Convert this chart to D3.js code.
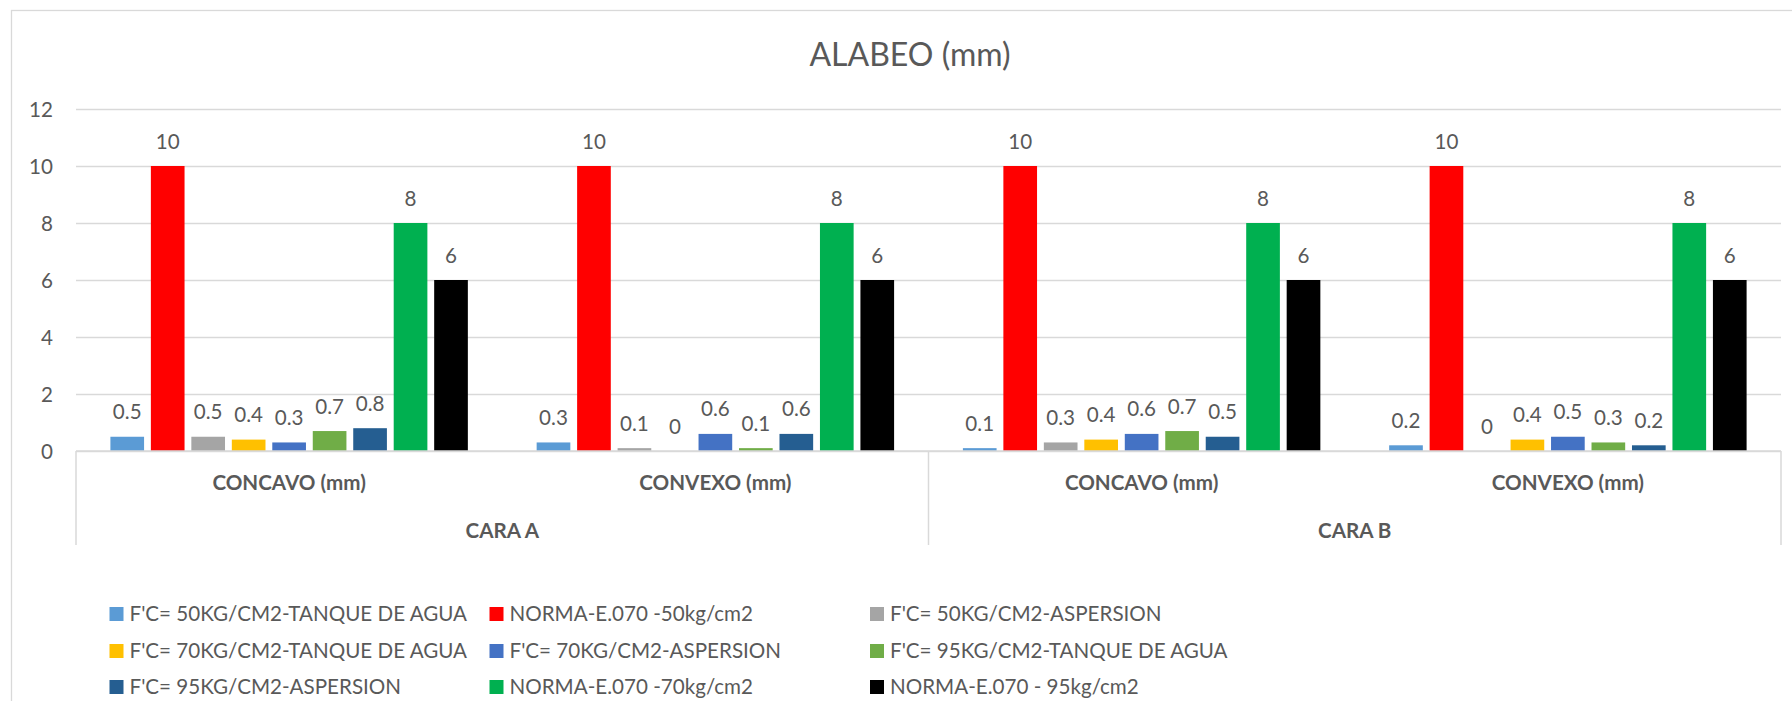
<!DOCTYPE html>
<html>
<head>
<meta charset="utf-8">
<script src="https://cdn.jsdelivr.net/npm/d3@7"></script>
<style>
  html, body { margin: 0; padding: 0; background: #fff; }
  svg { display: block; }
  text { font-family: Lato, "Open Sans", sans-serif; fill: #595959; }
</style>
</head>
<body>
<svg id="chart" width="1792" height="701"></svg>
<script>
// ---------- DATA ----------
const title = "ALABEO (mm)";
const categories = ["CONCAVO (mm)", "CONVEXO (mm)", "CONCAVO (mm)", "CONVEXO (mm)"];
const groups = ["CARA A", "CARA B"];
const categoryGroup = [0, 0, 1, 1];
const seriesNames = [
  "F'C= 50KG/CM2-TANQUE DE AGUA",
  "NORMA-E.070 -50kg/cm2",
  "F'C= 50KG/CM2-ASPERSION",
  "F'C= 70KG/CM2-TANQUE DE AGUA",
  "F'C= 70KG/CM2-ASPERSION",
  "F'C= 95KG/CM2-TANQUE DE AGUA",
  "F'C= 95KG/CM2-ASPERSION",
  "NORMA-E.070 -70kg/cm2",
  "NORMA-E.070 - 95kg/cm2"
];
const seriesColors = ["#5B9BD5", "#FF0000", "#A5A5A5", "#FFC000", "#4472C4", "#70AD47", "#255E91", "#00B050", "#000000"];
// values per series, one per category
const s50Tanque   = [0.5, 0.3, 0.1, 0.2];
const norma50     = [10, 10, 10, 10];
const s50Asper    = [0.5, 0.1, 0.3, 0];
const s70Tanque   = [0.4, 0, 0.4, 0.4];
const s70Asper    = [0.3, 0.6, 0.6, 0.5];
const s95Tanque   = [0.7, 0.1, 0.7, 0.3];
const s95Asper    = [0.8, 0.6, 0.5, 0.2];
const norma70     = [8, 8, 8, 8];
const norma95     = [6, 6, 6, 6];
const seriesValues = [s50Tanque, norma50, s50Asper, s70Tanque, s70Asper, s95Tanque, s95Asper, norma70, norma95];
const yTicks = [0, 2, 4, 6, 8, 10, 12];

// ---------- LAYOUT ----------
const svg = d3.select("#chart");
const plot = { left: 76, right: 1781, top: 109, bottom: 451 };
const gridColor = "#D9D9D9";
const FS = 20.6;

// chart border
svg.append("rect")
  .attr("x", 11.5).attr("y", 10.5)
  .attr("width", 1800).attr("height", 720)
  .attr("fill", "none").attr("stroke", gridColor).attr("stroke-width", 1.3);

// title
svg.append("text")
  .attr("x", 910).attr("y", 66)
  .attr("text-anchor", "middle")
  .style("font-size", "32px")
  .text(title);

const catIdx = categories.map((c, i) => i);
const x0 = d3.scaleBand().domain(catIdx).range([plot.left, plot.right]).padding(0);
const x1 = d3.scaleBand().domain(d3.range(seriesNames.length))
  .range([0, x0.bandwidth()]).paddingInner(0.168).paddingOuter(0.85);
const y = d3.scaleLinear().domain([0, 12]).range([plot.bottom, plot.top]);

// gridlines
const grid = svg.append("g").attr("transform", `translate(${plot.left},0)`)
  .call(d3.axisLeft(y).tickValues(yTicks).tickSize(-(plot.right - plot.left)).tickFormat(""));
grid.select(".domain").remove();
grid.selectAll("line").attr("stroke", gridColor).attr("stroke-width", 1.5);

// y axis labels
const yAxis = svg.append("g").attr("transform", `translate(${plot.left - 23},0)`)
  .call(d3.axisLeft(y).tickValues(yTicks).tickSize(0).tickPadding(0));
yAxis.select(".domain").remove();
yAxis.selectAll("text").style("font-size", FS + "px").attr("fill", "#595959")
  .attr("font-family", "Lato").attr("dy", "0.36em");

// bars
const barData = [];
seriesValues.forEach((vals, s) => vals.forEach((v, c) => barData.push({ s, c, v })));
svg.append("g").selectAll("rect").data(barData).join("rect")
  .attr("x", d => x0(d.c) + x1(d.s))
  .attr("y", d => y(d.v))
  .attr("width", x1.bandwidth())
  .attr("height", d => y(0) - y(d.v))
  .attr("fill", d => seriesColors[d.s]);

// data labels
svg.append("g").selectAll("text").data(barData).join("text")
  .attr("x", d => x0(d.c) + x1(d.s) + x1.bandwidth() / 2)
  .attr("y", d => y(d.v) - 17.5)
  .attr("text-anchor", "middle")
  .style("font-size", FS + "px")
  .text(d => d3.format("")(d.v));

// category axis
const ax = svg.append("g").attr("stroke", gridColor).attr("stroke-width", 1.5);
ax.append("line").attr("x1", plot.left).attr("x2", plot.right).attr("y1", y(0)).attr("y2", y(0));
const boundaries = [x0(0), x0(2), x0(3) + x0.bandwidth()];
ax.selectAll(".b").data(boundaries).join("line")
  .attr("x1", d => d).attr("x2", d => d).attr("y1", y(0)).attr("y2", 545);

svg.append("g").selectAll("text").data(categories).join("text")
  .attr("x", (d, i) => x0(i) + x0.bandwidth() / 2)
  .attr("y", 490)
  .attr("text-anchor", "middle")
  .style("font-size", FS + "px").style("font-weight", "bold")
  .text(d => d);

svg.append("g").selectAll("text").data(groups).join("text")
  .attr("x", (d, g) => {
    const idx = catIdx.filter(i => categoryGroup[i] === g);
    return (x0(idx[0]) + x0(idx[idx.length - 1]) + x0.bandwidth()) / 2;
  })
  .attr("y", 537.5)
  .attr("text-anchor", "middle")
  .style("font-size", FS + "px").style("font-weight", "bold")
  .text(d => d);

// legend
const legendCols = [109.5, 489.5, 870];
const legendRows = [614, 651, 687];
const lg = svg.append("g").selectAll("g").data(seriesNames).join("g")
  .attr("transform", (d, i) => `translate(${legendCols[i % 3]},${legendRows[Math.floor(i / 3)]})`);
lg.append("rect").attr("x", 0).attr("y", -7).attr("width", 14).attr("height", 14)
  .attr("fill", (d, i) => seriesColors[i]);
lg.append("text").attr("x", 20).attr("y", 0).attr("dy", "0.36em")
  .style("font-size", FS + "px").text(d => d);
</script>
</body>
</html>
